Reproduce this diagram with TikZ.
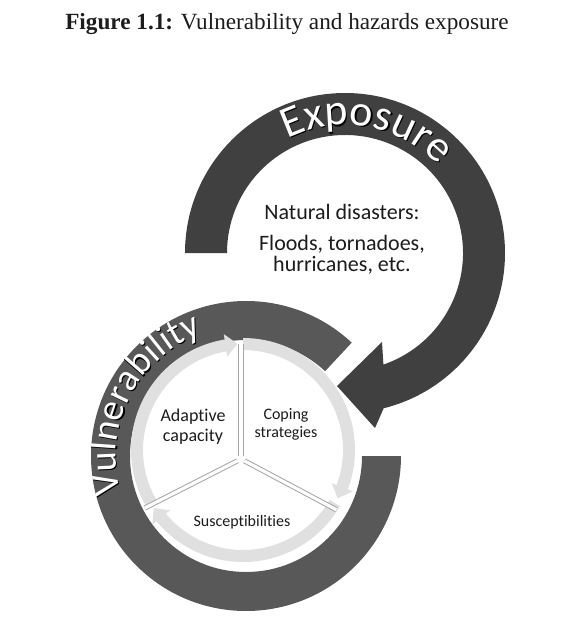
\documentclass[tikz,border=0pt]{standalone}
\usepackage{fontspec}
\setmainfont{Liberation Serif}
\newfontfamily\calfont[Ligatures=NoCommon]{Carlito}
\usetikzlibrary{calc,decorations.text,arrows.meta,bending}
\definecolor{expcol}{RGB}{64,64,64}
\definecolor{vulcol}{RGB}{88,88,88}
\definecolor{ringcol}{RGB}{224,224,224}
\definecolor{txtcol}{RGB}{28,28,28}
\newcommand{\expofont}{\calfont\fontsize{22}{22}\selectfont}
\newcommand{\vulnfont}{\calfont\fontsize{19}{19}\selectfont}
\tikzset{
  hazlbl/.style={font=\calfont\fontsize{11}{10.5}\selectfont,text=txtcol,align=center,inner sep=0pt},
  inlbl/.style={font=\calfont\fontsize{8}{9}\selectfont,text=txtcol,align=center,inner sep=0pt},
  ringseg/.style={draw=ringcol,line width=6pt,-{Triangle[bend,width=11pt,length=6pt]}},
  divider/.style={draw=black!35,line width=0.5pt,double=white,double distance=1.6pt},
}

\begin{document}
\begin{tikzpicture}[x=0.5pt,y=0.5pt]
  \fill[white] (0,0) rectangle (578,-627);
  \useasboundingbox (0,0) rectangle (578,-627);

  \node[anchor=base,text=txtcol,font=\fontsize{11.6}{14}\selectfont] (ttl) at (287,-29)
        {\textbf{Figure 1.1:} Vulnerability and hazards exposure};

  \coordinate (ec) at (345,-253);
  \coordinate (vc) at (246,-456);
  \coordinate (lc) at (243,-450);
  \coordinate (dc) at (241,-459);

  % exposure arrow
  \fill[expcol] ($(ec)+(180:160)$) arc[start angle=180,end angle=-76,radius=160]
    -- ($(ec)+(30,-175)$) -- ($(ec)+(-8,-133)$) -- ($(ec)+(37,-89)$)
    -- ($(ec)+(-71:118)$) arc[start angle=-71,end angle=180,radius=118] -- cycle;

  % vulnerability ring
  \fill[vulcol] ($(vc)+(47:155)$) arc[start angle=47,end angle=360,radius=155]
    -- ($(vc)+(0:116)$) arc[start angle=360,end angle=47,radius=116] -- cycle;

  \draw[ringseg] ($(lc)+(210:106)$) arc[start angle=210,end angle=93,radius=106];
  \draw[ringseg] ($(lc)+(90:106)$) arc[start angle=90,end angle=-27,radius=106];
  \draw[ringseg] ($(lc)+(-30:106)$) arc[start angle=-30,end angle=-147,radius=106];

  \draw[divider] ($(dc)+(90:3)$) -- ($(dc)+(90:115)$);
  \draw[divider] ($(dc)+(-28:4)$) -- ($(dc)+(-28:108)$);
  \draw[divider] ($(dc)+(-153:4)$) -- ($(dc)+(-153:108)$);

  % curved titles, dark shadow first
  \path[decorate,decoration={text along path,text align=center,text color=black,
        text={|\expofont|Exposure}}]
    ($(ec)+(1.2,-1.2)+(140:128)$) arc[start angle=140,end angle=20,radius=128];
  \path[decorate,decoration={text along path,text align=center,text color=black,
        text={|\vulnfont|Vulnerability}}]
    ($(vc)+(1.2,-1.2)+(213:130)$) arc[start angle=213,end angle=93,radius=130];
  \path[decorate,decoration={text along path,text align=center,text color=white,
        text={|\expofont|Exposure}}]
    ($(ec)+(140:128)$) arc[start angle=140,end angle=20,radius=128];
  \path[decorate,decoration={text along path,text align=center,text color=white,
        text={|\vulnfont|Vulnerability}}]
    ($(vc)+(213:130)$) arc[start angle=213,end angle=93,radius=130];

  \node[hazlbl] (haz) at (342,-239) {Natural disasters:\\[5pt]Floods, tornadoes,\\hurricanes, etc.};
  \node[inlbl,font=\calfont\fontsize{9}{10}\selectfont] (adap) at (193,-427) {Adaptive\\capacity};
  \node[inlbl] (cope) at (286,-424) {Coping\\strategies};
  \node[inlbl] (susc) at (242,-522) {Susceptibilities};
\end{tikzpicture}
\end{document}
